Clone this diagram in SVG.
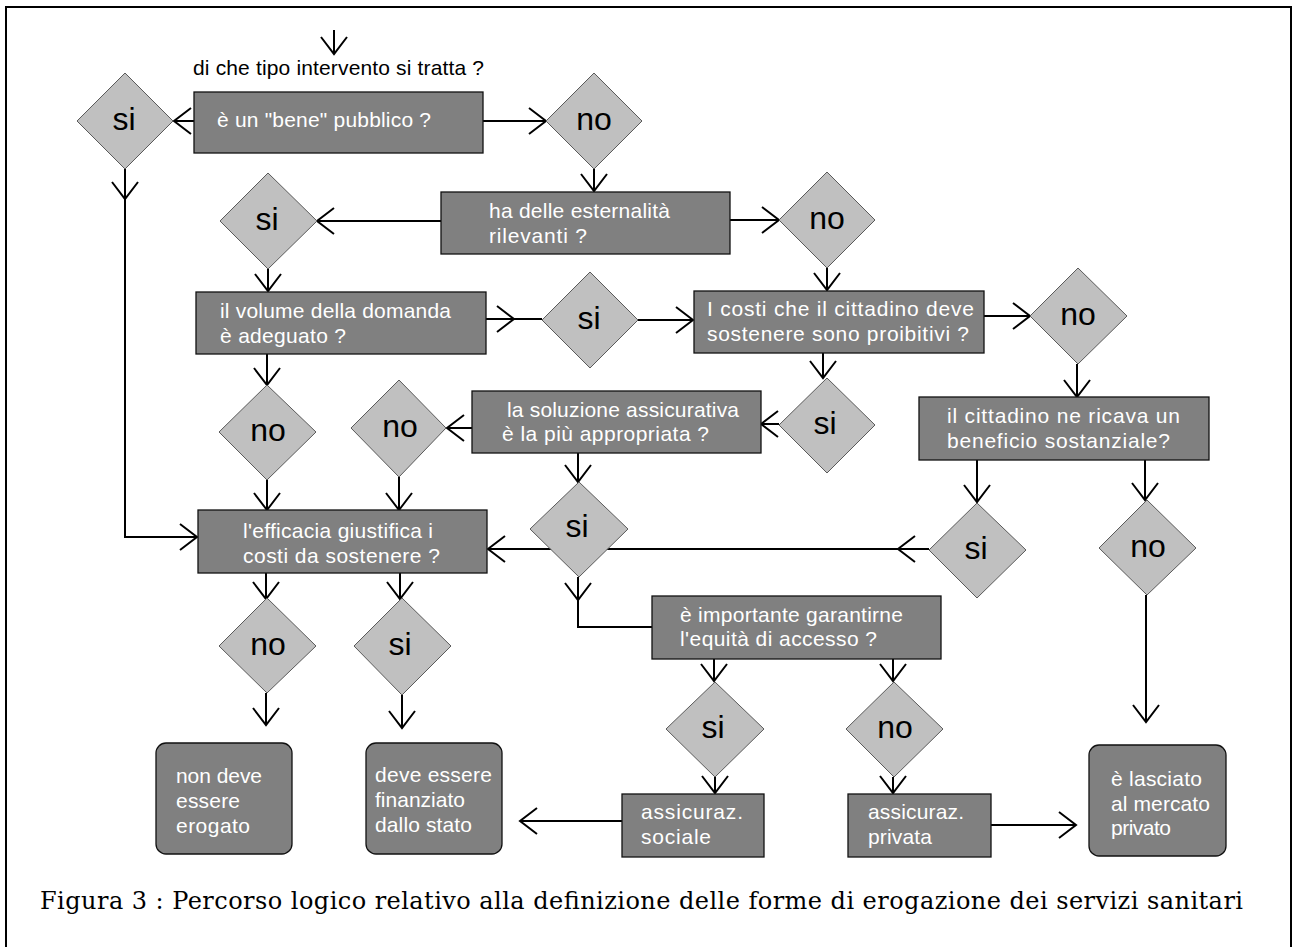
<svg xmlns="http://www.w3.org/2000/svg" width="1294" height="947" viewBox="0 0 1294 947">
  <style>
    .frame { fill: #fff; stroke: #000; stroke-width: 2; }
    .box { fill: #808080; stroke: #111; stroke-width: 1.3; }
    .dia { fill: #c0c0c0; stroke: #5a5a5a; stroke-width: 1; }
    .ln { fill: none; stroke: #000; stroke-width: 2; }
    .bt { font-family: "Liberation Sans", Arial, sans-serif; font-size: 21px; fill: #fff; }
    .dt { font-family: "Liberation Sans", Arial, sans-serif; font-size: 32px; fill: #000; text-anchor: middle; }
    .top { font-family: "Liberation Sans", Arial, sans-serif; font-size: 21px; fill: #000; }
    .cap { font-family: "DejaVu Serif", "Liberation Serif", serif; font-size: 24px; fill: #000; }
  </style>
  <defs>
    <marker id="ah" viewBox="0 0 40 40" refX="20" refY="20" markerWidth="40" markerHeight="40" markerUnits="userSpaceOnUse" orient="auto" overflow="visible">
      <path d="M3,7 L20,20 L3,33" fill="none" stroke="#000" stroke-width="2"/>
    </marker>
  </defs>

  <rect class="frame" x="6" y="7" width="1285" height="945"/>

  <!-- connectors -->
  <g id="connectors">
    <path class="ln" d="M334 30 L334 54" marker-end="url(#ah)"/>
    <path class="ln" d="M194 121 L174 121" marker-end="url(#ah)"/>
    <path class="ln" d="M483 121 L546 121" marker-end="url(#ah)"/>
    <path class="ln" d="M125 169 L125 199" marker-end="url(#ah)"/>
    <path class="ln" d="M125 199 L125 537 L197 537" marker-end="url(#ah)"/>
    <path class="ln" d="M594 169 L594 191" marker-end="url(#ah)"/>
    <path class="ln" d="M441 221 L317 221" marker-end="url(#ah)"/>
    <path class="ln" d="M730 220 L779 220" marker-end="url(#ah)"/>
    <path class="ln" d="M268 269 L268 291" marker-end="url(#ah)"/>
    <path class="ln" d="M486 319 L514 319" marker-end="url(#ah)"/>
    <path class="ln" d="M514 319 L542 319"/>
    <path class="ln" d="M638 320 L693 320" marker-end="url(#ah)"/>
    <path class="ln" d="M827 268 L827 290" marker-end="url(#ah)"/>
    <path class="ln" d="M984 316 L1030 316" marker-end="url(#ah)"/>
    <path class="ln" d="M1077 364 L1077 397" marker-end="url(#ah)"/>
    <path class="ln" d="M823 353 L823 378" marker-end="url(#ah)"/>
    <path class="ln" d="M779 424 L761 424" marker-end="url(#ah)"/>
    <path class="ln" d="M472 428 L447 428" marker-end="url(#ah)"/>
    <path class="ln" d="M267 354 L267 385" marker-end="url(#ah)"/>
    <path class="ln" d="M267 480 L267 510" marker-end="url(#ah)"/>
    <path class="ln" d="M399 477 L399 510" marker-end="url(#ah)"/>
    <path class="ln" d="M578 453 L578 482" marker-end="url(#ah)"/>
    <path class="ln" d="M929 549 L898 549" marker-end="url(#ah)"/>
    <path class="ln" d="M898 549 L488 549" marker-end="url(#ah)"/>
    <path class="ln" d="M977 460 L977 502" marker-end="url(#ah)"/>
    <path class="ln" d="M1145 460 L1145 500" marker-end="url(#ah)"/>
    <path class="ln" d="M1146 595 L1146 722" marker-end="url(#ah)"/>
    <path class="ln" d="M578 577 L578 600" marker-end="url(#ah)"/>
    <path class="ln" d="M578 600 L578 627 L652 627"/>
    <path class="ln" d="M266 573 L266 599" marker-end="url(#ah)"/>
    <path class="ln" d="M400 573 L400 599" marker-end="url(#ah)"/>
    <path class="ln" d="M266 693 L266 725" marker-end="url(#ah)"/>
    <path class="ln" d="M402 695 L402 728" marker-end="url(#ah)"/>
    <path class="ln" d="M714 659 L714 681" marker-end="url(#ah)"/>
    <path class="ln" d="M893 659 L893 681" marker-end="url(#ah)"/>
    <path class="ln" d="M715 777 L715 793" marker-end="url(#ah)"/>
    <path class="ln" d="M893 777 L893 793" marker-end="url(#ah)"/>
    <path class="ln" d="M622 821 L520 821" marker-end="url(#ah)"/>
    <path class="ln" d="M991 825 L1076 825" marker-end="url(#ah)"/>
  </g>

  <text id="start" class="top" x="193" y="75" textLength="291" lengthAdjust="spacing">di che tipo intervento si tratta ?</text>

  <!-- question boxes -->
  <g id="q-bene-pubblico">
    <rect class="box" x="194" y="92" width="289" height="61"/>
    <text class="bt" x="217" y="127" textLength="214" lengthAdjust="spacing">è un "bene" pubblico ?</text>
  </g>
  <g id="q-esternalita">
    <rect class="box" x="441" y="192" width="289" height="62"/>
    <text class="bt" x="489" y="218" textLength="181" lengthAdjust="spacing">ha delle esternalità</text>
    <text class="bt" x="489" y="243" textLength="98" lengthAdjust="spacing">rilevanti ?</text>
  </g>
  <g id="q-volume">
    <rect class="box" x="196" y="292" width="290" height="62"/>
    <text class="bt" x="220" y="318" textLength="231" lengthAdjust="spacing">il volume della domanda</text>
    <text class="bt" x="220" y="343" textLength="126" lengthAdjust="spacing">è adeguato ?</text>
  </g>
  <g id="q-costi">
    <rect class="box" x="694" y="291" width="290" height="62"/>
    <text class="bt" x="707" y="316" textLength="267" lengthAdjust="spacing">I costi che il cittadino deve</text>
    <text class="bt" x="707" y="341" textLength="262" lengthAdjust="spacing">sostenere sono proibitivi ?</text>
  </g>
  <g id="q-beneficio">
    <rect class="box" x="919" y="397" width="290" height="63"/>
    <text class="bt" x="947" y="423" textLength="233" lengthAdjust="spacing">il cittadino ne ricava un</text>
    <text class="bt" x="947" y="448" textLength="223" lengthAdjust="spacing">beneficio sostanziale?</text>
  </g>
  <g id="q-assicurativa">
    <rect class="box" x="472" y="391" width="289" height="62"/>
    <text class="bt" x="507" y="417" textLength="232" lengthAdjust="spacing">la soluzione assicurativa</text>
    <text class="bt" x="502" y="441" textLength="207" lengthAdjust="spacing">è la più appropriata ?</text>
  </g>
  <g id="q-efficacia">
    <rect class="box" x="198" y="510" width="289" height="63"/>
    <text class="bt" x="243" y="538" textLength="190" lengthAdjust="spacing">l'efficacia giustifica i</text>
    <text class="bt" x="243" y="563" textLength="197" lengthAdjust="spacing">costi da sostenere ?</text>
  </g>
  <g id="q-equita">
    <rect class="box" x="652" y="596" width="289" height="63"/>
    <text class="bt" x="680" y="622" textLength="223" lengthAdjust="spacing">è importante garantirne</text>
    <text class="bt" x="680" y="646" textLength="197" lengthAdjust="spacing">l'equità di accesso ?</text>
  </g>
  <g id="r-sociale">
    <rect class="box" x="622" y="794" width="142" height="63"/>
    <text class="bt" x="641" y="819" textLength="102" lengthAdjust="spacing">assicuraz.</text>
    <text class="bt" x="641" y="844" textLength="70" lengthAdjust="spacing">sociale</text>
  </g>
  <g id="r-privata">
    <rect class="box" x="848" y="794" width="143" height="63"/>
    <text class="bt" x="868" y="819" textLength="96" lengthAdjust="spacing">assicuraz.</text>
    <text class="bt" x="868" y="844" textLength="64" lengthAdjust="spacing">privata</text>
  </g>

  <!-- outcomes -->
  <g id="end-non-erogato">
    <rect class="box" x="156" y="743" width="136" height="111" rx="10"/>
    <text class="bt" x="176" y="783" textLength="86" lengthAdjust="spacing">non deve</text>
    <text class="bt" x="176" y="808" textLength="64" lengthAdjust="spacing">essere</text>
    <text class="bt" x="176" y="833" textLength="74" lengthAdjust="spacing">erogato</text>
  </g>
  <g id="end-stato">
    <rect class="box" x="366" y="743" width="136" height="111" rx="10"/>
    <text class="bt" x="375" y="782" textLength="117" lengthAdjust="spacing">deve essere</text>
    <text class="bt" x="375" y="807" textLength="90" lengthAdjust="spacing">finanziato</text>
    <text class="bt" x="375" y="832" textLength="97" lengthAdjust="spacing">dallo stato</text>
  </g>
  <g id="end-mercato">
    <rect class="box" x="1089" y="745" width="137" height="111" rx="10"/>
    <text class="bt" x="1111" y="786" textLength="91" lengthAdjust="spacing">è lasciato</text>
    <text class="bt" x="1111" y="811" textLength="99" lengthAdjust="spacing">al mercato</text>
    <text class="bt" x="1111" y="835" textLength="60" lengthAdjust="spacing">privato</text>
  </g>

  <!-- decision diamonds -->
  <g id="d1-si"><polygon class="dia" points="125,73 173,121 125,169 77,121"/><text class="dt" x="124" y="130">si</text></g>
  <g id="d2-no"><polygon class="dia" points="594,73 642,121 594,169 546,121"/><text class="dt" x="594" y="130">no</text></g>
  <g id="d3-si"><polygon class="dia" points="268,173 317,221 268,269 220,221"/><text class="dt" x="267" y="230">si</text></g>
  <g id="d4-no"><polygon class="dia" points="827,172 875,220 827,268 779,220"/><text class="dt" x="827" y="229">no</text></g>
  <g id="d5-si"><polygon class="dia" points="590,272 638,320 590,368 542,320"/><text class="dt" x="589" y="329">si</text></g>
  <g id="d6-no"><polygon class="dia" points="1078,268 1127,316 1078,364 1030,316"/><text class="dt" x="1078" y="325">no</text></g>
  <g id="d7-si"><polygon class="dia" points="827,378 875,425 827,473 779,425"/><text class="dt" x="825" y="434">si</text></g>
  <g id="d8-no"><polygon class="dia" points="267,385 316,432 267,480 219,432"/><text class="dt" x="268" y="441">no</text></g>
  <g id="d9-no"><polygon class="dia" points="399,380 446,428 399,477 351,428"/><text class="dt" x="400" y="437">no</text></g>
  <g id="d10-si"><polygon class="dia" points="579,482 628,529 579,577 530,529"/><text class="dt" x="577" y="537">si</text></g>
  <g id="d11-si"><polygon class="dia" points="977,503 1026,550 977,598 929,550"/><text class="dt" x="976" y="559">si</text></g>
  <g id="d12-no"><polygon class="dia" points="1147,500 1196,548 1147,595 1099,548"/><text class="dt" x="1148" y="557">no</text></g>
  <g id="d13-no"><polygon class="dia" points="267,598 316,646 267,693 219,646"/><text class="dt" x="268" y="655">no</text></g>
  <g id="d14-si"><polygon class="dia" points="402,598 451,646 402,695 354,646"/><text class="dt" x="400" y="655">si</text></g>
  <g id="d15-si"><polygon class="dia" points="715,682 764,729 715,777 666,729"/><text class="dt" x="713" y="738">si</text></g>
  <g id="d16-no"><polygon class="dia" points="894,682 943,729 894,777 846,729"/><text class="dt" x="895" y="738">no</text></g>

  <text id="caption" class="cap" x="40" y="909" textLength="1203" lengthAdjust="spacing">Figura 3 : Percorso logico relativo alla definizione delle forme di erogazione dei servizi sanitari</text>
</svg>
